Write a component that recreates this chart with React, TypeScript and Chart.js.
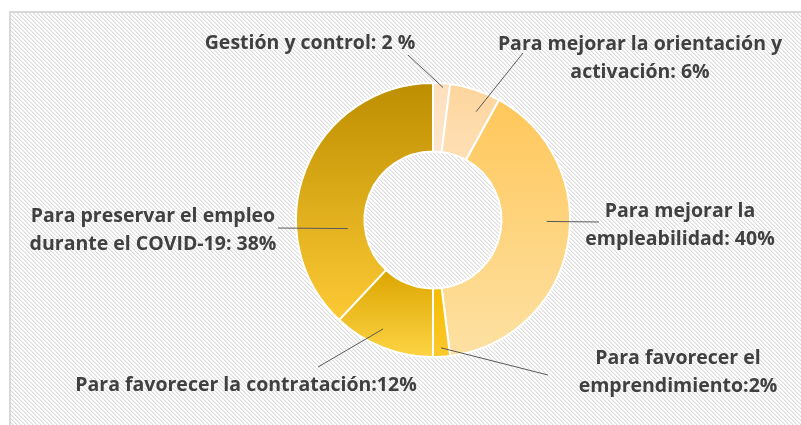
import React, { useEffect, useRef } from 'react';
import { Chart, registerables } from 'chart.js';

Chart.register(...registerables);

// ---- data ----
const categories = [
  'Gestión y control',
  'Para mejorar la orientación y activación',
  'Para mejorar la empleabilidad',
  'Para favorecer el emprendimiento',
  'Para favorecer la contratación',
  'Para preservar el empleo durante el COVID-19',
];
const values = [2, 6, 40, 2, 12, 38];
const labelLines = [
  ['Gestión y control: 2 %'],
  ['Para mejorar la orientación y', 'activación: 6%'],
  ['Para mejorar la', 'empleabilidad: 40%'],
  ['Para favorecer el', 'emprendimiento:2%'],
  ['Para favorecer la contratación:12%'],
  ['Para preservar el empleo', 'durante el COVID-19: 38%'],
];

// ---- styles ----
const gradientTop = ['#fddfbc', '#fdd59c', '#ffc75a', '#f5bb00', '#dba600', '#bd8e00'];
const gradientBottom = ['#fde6cc', '#fee0b6', '#fde1a3', '#fcc92e', '#fed445', '#fdca35'];

// label layout: text centre x, first baseline y, leader start, anchor in slice (t along angle, f radial)
const labelLayout = [
  { x: 310, y: 49, sx: 408, sy: 55, t: 0.6, f: 0.94 },
  { x: 640, y: 50, sx: 523, sy: 53, t: 0.67, f: 0.7 },
  { x: 680, y: 217, sx: 599, sy: 222, t: 0.43, f: 0.66 },
  { x: 678, y: 364, sx: 548, sy: 375, t: 0.5, f: 0.87 },
  { x: 246, y: 391, sx: 318, sy: 367, t: 0.57, f: 0.75 },
  { x: 153, y: 222, sx: 278, sy: 228, t: 0.3, f: 0.25 },
];

const FONT = 'bold 19.5px "Open Sans"';
const LINE_H = 28;

function makePattern(ctx: CanvasRenderingContext2D) {
  const pc = document.createElement('canvas');
  pc.width = 4;
  pc.height = 4;
  const p = pc.getContext('2d')!;
  p.fillStyle = '#ffffff';
  p.fillRect(0, 0, 4, 4);
  for (let i = 0; i < 4; i++) {
    p.fillStyle = '#dcdcdc';
    p.fillRect(i, i, 1, 1);
    p.fillStyle = '#efefef';
    p.fillRect((i + 1) % 4, i, 1, 1);
  }
  return ctx.createPattern(pc, 'repeat');
}

const backgroundPlugin = {
  id: 'bgHatch',
  beforeDraw(chart: any) {
    const ctx = chart.ctx as CanvasRenderingContext2D;
    const W = chart.width, H = chart.height;
    ctx.save();
    ctx.fillStyle = '#ffffff';
    ctx.fillRect(0, 0, W, H);
    const pat = makePattern(ctx);
    if (pat) {
      ctx.fillStyle = pat;
      ctx.fillRect(11, 13, W - 11, H - 13);
    }
    ctx.fillStyle = '#d9d9d9';
    ctx.fillRect(9, 11, W - 9, 2);
    ctx.fillRect(9, 11, 2, H - 11);
    ctx.restore();
  },
};

const labelPlugin = {
  id: 'sliceLabels',
  afterDraw(chart: any) {
    const ctx = chart.ctx as CanvasRenderingContext2D;
    const meta = chart.getDatasetMeta(0);
    ctx.save();
    meta.data.forEach((arc: any, i: number) => {
      const L = labelLayout[i];
      const { x, y, startAngle, endAngle, innerRadius, outerRadius } = arc.getProps(
        ['x', 'y', 'startAngle', 'endAngle', 'innerRadius', 'outerRadius'],
        true
      );
      const a = startAngle + (endAngle - startAngle) * L.t;
      const r = innerRadius + (outerRadius - innerRadius) * L.f;
      const ex = x + Math.cos(a) * r;
      const ey = y + Math.sin(a) * r;
      ctx.strokeStyle = '#595959';
      ctx.lineWidth = 1;
      ctx.beginPath();
      ctx.moveTo(L.sx, L.sy);
      ctx.lineTo(ex, ey);
      ctx.stroke();
      ctx.fillStyle = '#404040';
      ctx.font = FONT;
      ctx.textAlign = 'center';
      ctx.textBaseline = 'alphabetic';
      labelLines[i].forEach((line, k) => {
        ctx.fillText(line, L.x, L.y + k * LINE_H);
      });
    });
    ctx.restore();
  },
};

function sliceGradient(context: any) {
  const i = context.dataIndex;
  const chart = context.chart;
  const area = chart.chartArea;
  const ctrl: any = chart.getDatasetMeta(0).controller;
  if (!area || !ctrl || !ctrl.outerRadius) return gradientTop[i];
  const outer = ctrl.outerRadius;
  const inner = ctrl.innerRadius;
  const cy = (area.top + area.bottom) / 2 + (ctrl.offsetY || 0);
  const total = values.reduce((s, v) => s + v, 0);
  let cum = 0;
  for (let k = 0; k < i; k++) cum += values[k];
  const start = -Math.PI / 2 + (cum / total) * Math.PI * 2;
  const end = start + (values[i] / total) * Math.PI * 2;
  const ys: number[] = [];
  [start, end].forEach((ang) => {
    ys.push(cy + Math.sin(ang) * outer, cy + Math.sin(ang) * inner);
  });
  for (let k = -1; k <= 3; k++) {
    const ang = -Math.PI / 2 + k * Math.PI;
    if (ang > start && ang < end) ys.push(cy + Math.sin(ang) * outer);
  }
  const y0 = Math.min(...ys);
  const y1 = Math.max(...ys);
  const g = chart.ctx.createLinearGradient(0, y0, 0, y1 <= y0 ? y0 + 1 : y1);
  g.addColorStop(0, gradientTop[i]);
  g.addColorStop(1, gradientBottom[i]);
  return g;
}

export default function App() {
  const ref = useRef<HTMLCanvasElement>(null);
  useEffect(() => {
    if (!ref.current) return;
    const chart = new Chart(ref.current, {
      type: 'doughnut',
      data: {
        labels: categories,
        datasets: [
          {
            data: values,
            backgroundColor: sliceGradient as any,
            borderColor: '#ffffff',
            borderWidth: 2,
          },
        ],
      },
      options: {
        responsive: false,
        animation: false,
        devicePixelRatio: 1,
        cutout: '50%',
        layout: { padding: { left: 295, right: 230, top: 82, bottom: 67 } },
        plugins: {
          legend: { display: false },
          tooltip: { enabled: false },
        },
        events: [],
      },
      plugins: [backgroundPlugin, labelPlugin],
    });
    return () => chart.destroy();
  }, []);
  return (
    <div style={{ position: 'absolute', left: 0, top: 0, width: 801, height: 425 }}>
      <canvas ref={ref} width={801} height={425} style={{ display: 'block' }} />
    </div>
  );
}
